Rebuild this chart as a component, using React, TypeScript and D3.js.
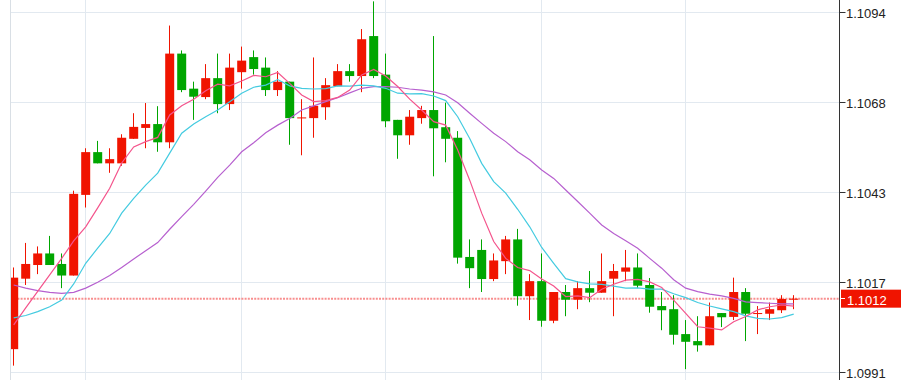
import React from "react";
import * as d3 from "d3";

const opens = [
  1.0998, 1.10181, 1.1022, 1.10253, 1.10223, 1.1019, 1.1042, 1.10542, 1.1051, 1.1051,
  1.1058, 1.10611, 1.10622, 1.1057, 1.10823, 1.10723, 1.10699, 1.10753, 1.10679, 1.1077,
  1.10813, 1.10783, 1.10719, 1.10743, 1.10639, 1.10639, 1.1067, 1.1073, 1.10773, 1.10759,
  1.10873, 1.10763, 1.10634, 1.1059, 1.10639, 1.10662, 1.10613, 1.10583, 1.10243, 1.10263,
  1.1018, 1.10231, 1.10293, 1.10131, 1.10174, 1.10061, 1.10143, 1.10121, 1.10154, 1.10141,
  1.10181, 1.10201, 1.10213, 1.10163, 1.10103, 1.10094, 1.10023, 1.10003, 1.09991, 1.10083,
  1.10072, 1.10143, 1.10081, 1.10081, 1.10091, 1.10121,
];
const highs = [
  1.10213, 1.10283, 1.10273, 1.10303, 1.10253, 1.10432, 1.10553, 1.10574, 1.10553, 1.10593,
  1.10653, 1.10682, 1.10673, 1.10903, 1.10832, 1.10743, 1.10793, 1.10823, 1.10823, 1.10843,
  1.10832, 1.10812, 1.10773, 1.10743, 1.10693, 1.10812, 1.10753, 1.10793, 1.10793, 1.10893,
  1.10972, 1.10823, 1.10634, 1.10662, 1.10674, 1.10873, 1.10683, 1.10602, 1.10293, 1.10293,
  1.10253, 1.10303, 1.10323, 1.10194, 1.10253, 1.10143, 1.10163, 1.10174, 1.10203, 1.10253,
  1.10223, 1.10263, 1.10253, 1.10183, 1.10143, 1.10134, 1.10063, 1.10074, 1.10113, 1.10083,
  1.10184, 1.10154, 1.10103, 1.10113, 1.10134, 1.10134,
];
const lows = [
  1.09933, 1.10163, 1.10194, 1.1022, 1.10154, 1.1019, 1.10384, 1.1051, 1.10483, 1.10503,
  1.1058, 1.10553, 1.10543, 1.10553, 1.10713, 1.10634, 1.10693, 1.10653, 1.10662, 1.10723,
  1.10763, 1.10702, 1.10702, 1.10563, 1.10533, 1.10583, 1.10634, 1.1073, 1.10743, 1.10713,
  1.10753, 1.10613, 1.10523, 1.10563, 1.10623, 1.10473, 1.10513, 1.10224, 1.10154, 1.10143,
  1.10174, 1.10194, 1.10104, 1.10063, 1.10044, 1.10054, 1.10074, 1.10094, 1.10114, 1.10141,
  1.10074, 1.10174, 1.10154, 1.10084, 1.10034, 1.09993, 1.09923, 1.09973, 1.09991, 1.10043,
  1.10063, 1.10003, 1.10023, 1.10063, 1.10083, 1.10094,
];
const closes = [
  1.10184, 1.10223, 1.10253, 1.1022, 1.1019, 1.10423, 1.10542, 1.1051, 1.10522, 1.10583,
  1.10614, 1.10622, 1.1057, 1.10823, 1.10719, 1.107, 1.10753, 1.10679, 1.10783, 1.10803,
  1.10779, 1.10719, 1.10743, 1.10639, 1.10641, 1.10674, 1.10733, 1.10773, 1.10759, 1.10864,
  1.10759, 1.1063, 1.1059, 1.10643, 1.10662, 1.1061, 1.1058, 1.10241, 1.10211, 1.1018,
  1.10233, 1.10293, 1.10131, 1.10174, 1.10061, 1.10143, 1.10121, 1.10154, 1.10141, 1.10174,
  1.10203, 1.10213, 1.10161, 1.10101, 1.10091, 1.10021, 1.10001, 1.09991, 1.10074, 1.10071,
  1.10143, 1.10081, 1.10083, 1.10094, 1.10123, 1.10124,
];
const maFast = [
  1.10049, 1.10098, 1.10145, 1.10192, 1.10239, 1.10289, 1.10329, 1.10383, 1.10439, 1.10511,
  1.10557, 1.10572, 1.10584, 1.10648, 1.10674, 1.10693, 1.10717, 1.10736, 1.10731, 1.10745,
  1.10761, 1.10757, 1.10769, 1.10738, 1.10705, 1.10686, 1.10689, 1.10698, 1.10719, 1.10762,
  1.10778, 1.10759, 1.10729, 1.10693, 1.10662, 1.10629, 1.10619, 1.10548, 1.10462, 1.10368,
  1.10287, 1.10239, 1.10213, 1.10204, 1.1018, 1.1016, 1.1013, 1.10132, 1.10127, 1.10151,
  1.10165, 1.10177, 1.10179, 1.10172, 1.10156, 1.1012, 1.10082, 1.10044, 1.1004, 1.10035,
  1.10058, 1.10073, 1.10092, 1.10101, 1.10106, 1.10103,
];
const maMid = [
  1.10069, 1.10076, 1.10087, 1.10101, 1.1012, 1.10166, 1.10225, 1.10268, 1.1031, 1.10368,
  1.1041, 1.10448, 1.10482, 1.10539, 1.10596, 1.10622, 1.10643, 1.10662, 1.10686, 1.1071,
  1.10727, 1.10733, 1.10749, 1.10731, 1.10724, 1.10722, 1.10723, 1.10731, 1.1073, 1.10733,
  1.10731, 1.10724, 1.1071, 1.10708, 1.10709, 1.10702, 1.10689, 1.10643, 1.10581, 1.1051,
  1.10458, 1.10425, 1.10379, 1.10329, 1.1027, 1.10225, 1.10181, 1.10172, 1.10166, 1.10165,
  1.1016, 1.10154, 1.10155, 1.10151, 1.10151, 1.10138, 1.10127, 1.10113, 1.10103, 1.10095,
  1.10087, 1.10075, 1.10068, 1.10066, 1.1007, 1.1008,
];
const maSlow = [
  1.10163, 1.10154, 1.10147, 1.10142, 1.10139, 1.10142, 1.10154, 1.10171, 1.1019, 1.10213,
  1.10237, 1.10261, 1.10284, 1.10322, 1.10358, 1.10393, 1.10431, 1.1047, 1.10505, 1.10543,
  1.10569, 1.10597, 1.10619, 1.10638, 1.10662, 1.10674, 1.10686, 1.10697, 1.10711, 1.10724,
  1.10729, 1.10729, 1.10727, 1.10722, 1.10719, 1.10714, 1.10705, 1.10683, 1.10653, 1.10624,
  1.10596, 1.10572, 1.10543, 1.1052, 1.10491, 1.10467, 1.10434, 1.10401, 1.10368, 1.10334,
  1.1031, 1.10289, 1.10268, 1.10239, 1.10211, 1.10178, 1.10154, 1.10144, 1.10137, 1.10132,
  1.10125, 1.10115, 1.10113, 1.10111, 1.10109, 1.10109,
];
const tickValues = [1.09914, 1.101707, 1.104274, 1.106841, 1.109408];
const verticalGridIndex = [6, 19, 31, 44, 56];

const RED = "#f01400";
const GREEN = "#00a600";
const GRID = "#e2e9f0";

export default function App() {
  const W = 901;
  const H = 380;
  const left = 11;
  const axisX = 839.5;
  const n = closes.length;
  const x = d3.scaleLinear().domain([0, n - 1]).range([13.7, 13.7 + 12 * (n - 1)]);
  const y = d3
    .scaleLinear()
    .domain([tickValues[0], tickValues[tickValues.length - 1]])
    .range([372.3, 12.3]);
  const fmt = d3.format(".4f");
  const line = d3
    .line<number>()
    .x((_, i) => x(i))
    .y((d) => y(d));
  const last = closes[n - 1];
  const yLast = y(last);
  const bodyW = 9;

  return (
    <div style={{ position: "absolute", left: 0, top: 0, width: W, height: H, background: "#fff" }}>
      <svg width={W} height={H} style={{ display: "block" }}>
        <defs>
          <clipPath id="plot">
            <rect x={left} y={0} width={axisX - left} height={H} />
          </clipPath>
        </defs>
        <rect x={0} y={0} width={W} height={H} fill="#fff" />
        {/* grid */}
        <line x1={left - 0.5} x2={left - 0.5} y1={0} y2={H} stroke="#d9dfe5" strokeWidth={1} />
        {tickValues.map((t) => {
          const yy = Math.floor(y(t)) + 0.5;
          return <line key={"h" + t} x1={left} x2={axisX} y1={yy} y2={yy} stroke={GRID} strokeWidth={1} />;
        })}
        {verticalGridIndex.map((i) => {
          const xx = Math.floor(x(i)) + 0.5;
          return <line key={"v" + i} x1={xx} x2={xx} y1={0} y2={H} stroke={GRID} strokeWidth={1} />;
        })}
        <g clipPath="url(#plot)">
          {/* current price dotted line */}
          <line
            x1={left}
            x2={axisX}
            y1={yLast}
            y2={yLast}
            stroke="#f56a6a"
            strokeOpacity={0.75}
            strokeWidth={2}
            strokeDasharray="2 1.2"
          />
          {/* candles */}
          {closes.map((c, i) => {
            const o = opens[i];
            const up = c >= o;
            const col = up ? RED : GREEN;
            const cx = x(i);
            const wx = Math.floor(cx) + 0.5;
            const yTop = y(Math.max(o, c));
            const yBot = y(Math.min(o, c));
            const h = Math.max(1, yBot - yTop);
            return (
              <g key={i}>
                <line x1={wx} x2={wx} y1={y(highs[i])} y2={y(lows[i])} stroke={col} strokeWidth={1} />
                <rect x={cx - bodyW / 2} y={yTop} width={bodyW} height={h} fill={col} />
              </g>
            );
          })}
          {/* moving averages */}
          <path d={line(maSlow) || ""} fill="none" stroke="#b760cf" strokeWidth={1.2} />
          <path d={line(maMid) || ""} fill="none" stroke="#44cbe0" strokeWidth={1.2} />
          <path d={line(maFast) || ""} fill="none" stroke="#f4548c" strokeWidth={1.2} />
        </g>
        {/* right axis */}
        <line x1={axisX} x2={axisX} y1={0} y2={H} stroke="#333" strokeWidth={1} />
        {tickValues.map((t) => {
          const yy = Math.floor(y(t)) + 0.5;
          return (
            <g key={"t" + t}>
              <line x1={axisX} x2={axisX + 6} y1={yy} y2={yy} stroke="#333" strokeWidth={1} />
              <text
                x={846}
                y={y(t) + 5.8}
                fontFamily="'Liberation Sans', Arial, sans-serif"
                fontSize={13}
                fill="#222"
              >
                {fmt(t)}
              </text>
            </g>
          );
        })}
        {/* last price label */}
        <rect x={841} y={yLast - 9} width={W - 841} height={18} fill={RED} />
        <line x1={841} x2={845} y1={Math.floor(yLast) + 0.5} y2={Math.floor(yLast) + 0.5} stroke="#fff" strokeWidth={1} />
        <text
          x={847}
          y={yLast + 6}
          fontFamily="'Liberation Sans', Arial, sans-serif"
          fontSize={13}
          fill="#fff"
        >
          {fmt(last)}
        </text>
      </svg>
    </div>
  );
}
